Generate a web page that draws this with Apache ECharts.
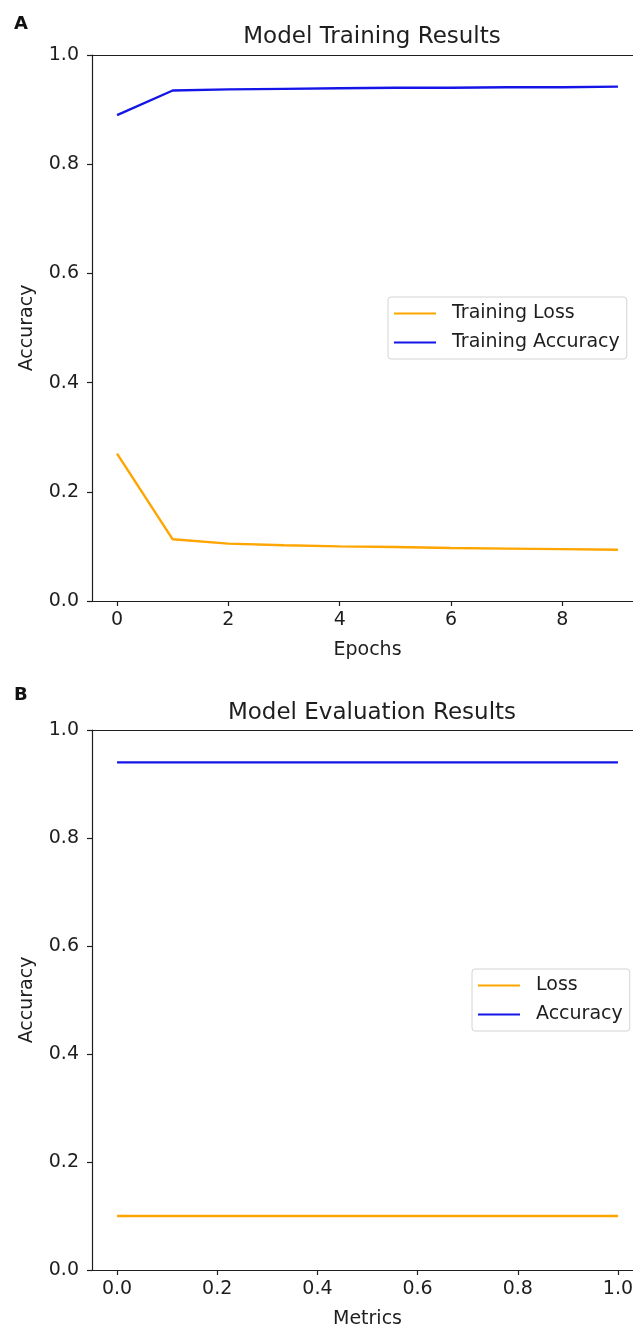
<!DOCTYPE html>
<html>
<head>
<meta charset="utf-8">
<script src="https://cdn.jsdelivr.net/npm/echarts@6/dist/echarts.min.js"></script>
<style>
  html, body { margin: 0; padding: 0; background: #fff; overflow: hidden; }
  /* plot area runs past the right edge, like the cropped original */
  #chart { width: 660px; height: 1330px; }
</style>
</head>
<body>
<div id="chart"></div>
<script>
// panel A: training history per epoch
const epochs = [0, 1, 2, 3, 4, 5, 6, 7, 8, 9]
const trainLoss = [0.270, 0.113, 0.105, 0.102, 0.100, 0.099, 0.097, 0.096, 0.095, 0.094]
const trainAcc = [0.890, 0.935, 0.937, 0.938, 0.939, 0.940, 0.940, 0.941, 0.941, 0.942]
const epochTicks = [0, 2, 4, 6, 8]

// panel B: evaluation results
const metricX = [0, 1]
const evalLoss = [0.100, 0.100]
const evalAcc = [0.940, 0.940]
const metricTicks = [0, 0.2, 0.4, 0.6, 0.8, 1.0]

const FONT = 'DejaVu Sans'
const ORANGE = '#ffa500'
const BLUE = '#1515e8'
const AXIS = '#1e1e1e'

const pair = (xs, ys) => xs.map((x, i) => [x, ys[i]])

const bottomX = (gridIndex, min, max, ticks, name, fmt) => ({
    type: 'value',
    gridIndex,
    position: 'bottom',
    min, max,
    name,
    nameLocation: 'middle',
    nameGap: 40,
    nameTextStyle: { fontFamily: FONT, fontSize: 19, color: AXIS },
    axisLine: { show: true, onZero: false, lineStyle: { color: AXIS, width: 1.2 } },
    axisTick: { show: true, inside: false, length: 5, customValues: ticks, lineStyle: { color: AXIS, width: 1.2 } },
    axisLabel: { customValues: ticks, fontFamily: FONT, fontSize: 19, color: AXIS, margin: 10, formatter: fmt },
    splitLine: { show: false },
})

// top spine
const topX = (gridIndex) => ({
    type: 'value',
    gridIndex,
    position: 'top',
    axisLine: { show: true, onZero: false, lineStyle: { color: AXIS, width: 1.2 } },
    axisTick: { show: false },
    axisLabel: { show: false },
    splitLine: { show: false },
})

const leftY = (gridIndex) => ({
    type: 'value',
    gridIndex,
    position: 'left',
    min: 0, max: 1, interval: 0.2,
    name: 'Accuracy',
    nameLocation: 'middle',
    nameGap: 55,
    nameRotate: 90,
    nameTextStyle: { fontFamily: FONT, fontSize: 19, color: AXIS },
    axisLine: { show: true, onZero: false, lineStyle: { color: AXIS, width: 1.2 } },
    axisTick: { show: true, inside: false, length: 5, lineStyle: { color: AXIS, width: 1.2 } },
    axisLabel: { fontFamily: FONT, fontSize: 19, color: AXIS, margin: 13, formatter: v => v.toFixed(1) },
    splitLine: { show: false },
})

const line = (name, data, color, axisIdx) => ({
    name,
    type: 'line',
    xAxisIndex: axisIdx,
    yAxisIndex: axisIdx,
    data,
    showSymbol: false,
    symbol: 'none',
    color,
    lineStyle: { color, width: 2.4 },
    animation: false,
})

const legendBox = (names, left, top) => ({
    data: names,
    orient: 'vertical',
    left, top,
    icon: 'rect',
    itemWidth: 42,
    itemHeight: 2,
    itemGap: 10,
    padding: [7, 7, 7, 6],
    borderColor: '#d4d4d4',
    borderWidth: 1,
    borderRadius: 3,
    backgroundColor: '#fff',
    textStyle: { fontFamily: FONT, fontSize: 19, color: AXIS, padding: [0, 0, 0, 11] },
})

const chart = echarts.init(document.getElementById('chart'), null, { renderer: 'canvas' })

chart.setOption({
    backgroundColor: '#fff',
    animation: false,
    title: [
        { text: 'A', left: 9, top: 10, textStyle: { fontFamily: FONT, fontSize: 18, fontWeight: 'bold', color: '#111' } },
        { text: 'Model Training Results', left: 367, top: 21, textAlign: 'center',
          textStyle: { fontFamily: FONT, fontSize: 23, fontWeight: 'normal', color: AXIS } },
        { text: 'B', left: 9, top: 681, textStyle: { fontFamily: FONT, fontSize: 18, fontWeight: 'bold', color: '#111' } },
        { text: 'Model Evaluation Results', left: 367, top: 697, textAlign: 'center',
          textStyle: { fontFamily: FONT, fontSize: 23, fontWeight: 'normal', color: AXIS } },
    ],
    grid: [
        { left: 92, top: 55, width: 551, height: 546 },
        { left: 92, top: 730, width: 551, height: 543 },
    ],
    xAxis: [
        bottomX(0, -0.45, 9.45, epochTicks, 'Epochs', v => String(v)),
        bottomX(1, -0.05, 1.05, metricTicks, 'Metrics', v => v.toFixed(1)),
        topX(0),
        topX(1),
    ],
    yAxis: [leftY(0), leftY(1)],
    legend: [
        legendBox(['Training Loss', 'Training Accuracy'], 388, 297),
        legendBox(['Loss', 'Accuracy'], 472, 969),
    ],
    series: [
        line('Training Loss', pair(epochs, trainLoss), ORANGE, 0),
        line('Training Accuracy', pair(epochs, trainAcc), BLUE, 0),
        line('Loss', pair(metricX, evalLoss), ORANGE, 1),
        line('Accuracy', pair(metricX, evalAcc), BLUE, 1),
    ],
})
</script>
</body>
</html>
